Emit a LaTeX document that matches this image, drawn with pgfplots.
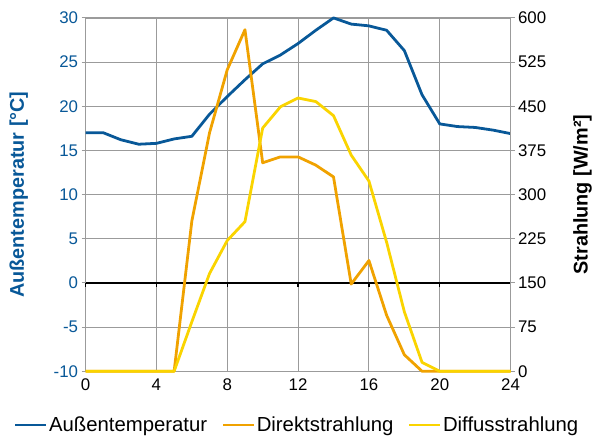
\documentclass[border=0pt]{standalone}
\usepackage{fontspec}
\setmainfont{Liberation Sans}
\usepackage{pgfplots}
\pgfplotsset{compat=1.18}

\definecolor{tblue}{RGB}{8,88,152}
\definecolor{dorange}{RGB}{240,162,0}
\definecolor{dyellow}{RGB}{250,212,0}
\definecolor{gridgray}{RGB}{155,155,155}

\pgfplotsset{
  base/.style={
    scale only axis, width=427bp, height=355bp,
    xmin=0, xmax=24, clip=false,
    /pgf/number format/assume math mode=true,
    ticklabel style={font=\fontsize{17}{19}\selectfont},
    tick align=outside, major tick length=4bp,
    every tick/.style={gridgray, line width=1.1bp},
    axis line style={gridgray, line width=1.3bp},
  },
  series/.style={line width=2.8bp, line join=round, mark=none},
}

\begin{document}
\begin{tikzpicture}
  % primary axis: temperature
  \begin{axis}[
    base,
    ymin=-10, ymax=30,
    ytick={-10,-5,...,30},
    xtick={0,4,...,24},
    x tick style={draw=none},
    ytick pos=left,
    xmajorgrids, ymajorgrids,
    grid style={gridgray, line width=1.1bp},
    y tick label style={text=tblue},
    ylabel={\textbf{Außentemperatur [°C]}},
    y label style={at={(axis description cs:-0.157,0.5)}, anchor=center,
      text=tblue, font=\fontsize{20}{22}\selectfont},
  ]
    \coordinate (sw) at (rel axis cs:0,0);
    \addplot[black, line width=1.6bp] coordinates {(0,0) (24,0)};
    \pgfplotsinvokeforeach{0,4,...,24}{
      \addplot[black, line width=1.3bp] coordinates {(#1,0) (#1,-0.45)};
    }
    \addplot[series, tblue] coordinates {
      (0,17.0) (1,17.0) (2,16.2) (3,15.7) (4,15.8) (5,16.3) (6,16.6)
      (7,19.1) (8,21.1) (9,23.0) (10,24.8) (11,25.8) (12,27.1) (13,28.6)
      (14,30.0) (15,29.3) (16,29.1) (17,28.6) (18,26.3) (19,21.3) (20,18.0)
      (21,17.7) (22,17.6) (23,17.3) (24,16.9)
    };
  \end{axis}

  % secondary axis: radiation
  \begin{axis}[
    base,
    ymin=0, ymax=600,
    ytick={0,75,...,600},
    axis y line*=right,
    axis x line=none,
    ylabel={\textbf{Strahlung [W/m²]}},
    y label style={at={(axis description cs:1.169,0.5)}, anchor=center,
      font=\fontsize{20}{22}\selectfont},
    legend columns=3,
    legend style={at={(axis description cs:0.497,-0.152)}, anchor=center,
      draw=none, fill=none, font=\fontsize{20.5}{23}\selectfont,
      inner xsep=0pt,
      nodes={inner xsep=1.5bp},
      /tikz/every odd column/.append style={column sep=0bp},
      /tikz/every even column/.append style={column sep=13bp}},
    legend image code/.code={\draw[#1] (0bp,0bp) -- (31bp,0bp);},
  ]
    \addlegendimage{series, tblue}
    \addlegendentry{Außentemperatur}
    \addplot[series, dorange] coordinates {
      (0,0) (1,0) (2,0) (3,0) (4,0) (5,0) (6,255) (7,405) (8,512) (9,580)
      (10,354) (11,364) (12,364) (13,350) (14,330) (15,148) (16,188)
      (17,95) (18,28) (19,0) (20,0) (21,0) (22,0) (23,0) (24,0)
    };
    \addlegendentry{Direktstrahlung}
    \addplot[series, dyellow] coordinates {
      (0,0) (1,0) (2,0) (3,0) (4,0) (5,0) (6,84) (7,166) (8,222) (9,254)
      (10,413) (11,449) (12,464) (13,458) (14,434) (15,367) (16,323)
      (17,219) (18,101) (19,15) (20,0) (21,0) (22,0) (23,0) (24,0)
    };
    \addlegendentry{Diffusstrahlung}
  \end{axis}
  \path (sw) ++(-86bp,-71bp) rectangle ++(595bp,444bp);
\end{tikzpicture}
\end{document}
